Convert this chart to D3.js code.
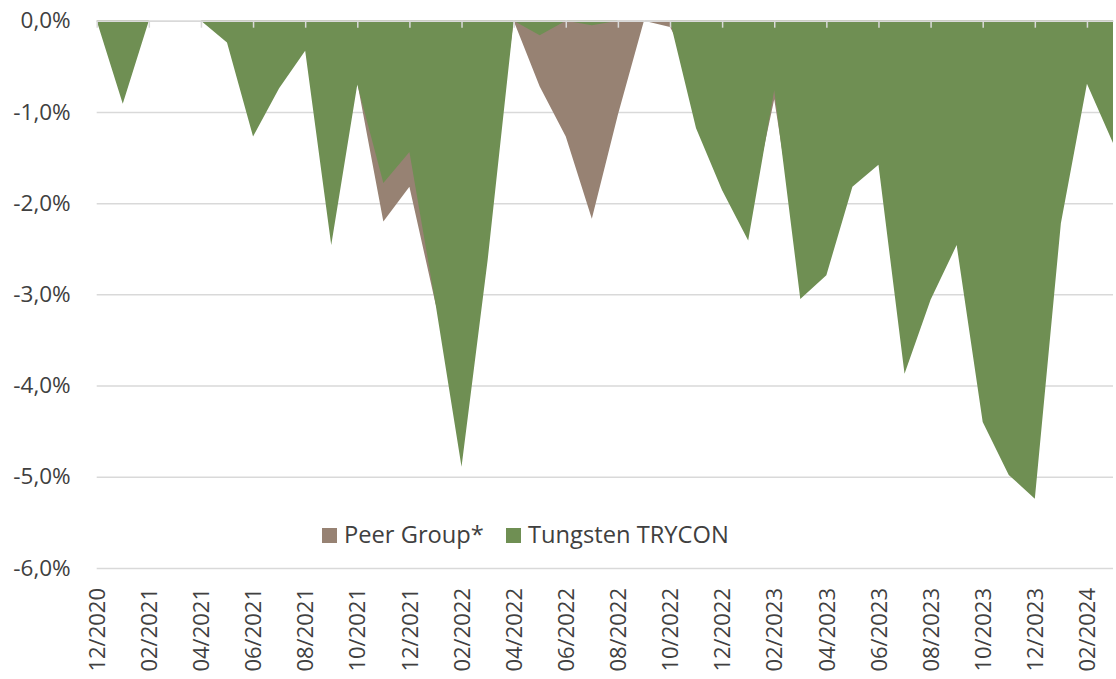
<!doctype html>
<html>
<head>
<meta charset="utf-8">
<title>Drawdown</title>
<script src="https://cdn.jsdelivr.net/npm/d3@7"></script>
<style>
  body { margin: 0; background: #fff; }
  svg text { font-family: "Open Sans", sans-serif; fill: #404040; }
</style>
</head>
<body>
<svg id="chart" width="1116" height="679"></svg>
<script>
// monthly drawdowns in %, 12/2020 .. 03/2024
var months = ["12/2020","01/2021","02/2021","03/2021","04/2021","05/2021","06/2021","07/2021",
  "08/2021","09/2021","10/2021","11/2021","12/2021","01/2022","02/2022","03/2022","04/2022",
  "05/2022","06/2022","07/2022","08/2022","09/2022","10/2022","11/2022","12/2022","01/2023",
  "02/2023","03/2023","04/2023","05/2023","06/2023","07/2023","08/2023","09/2023","10/2023",
  "11/2023","12/2023","01/2024","02/2024","03/2024"];

var peerGroup = [0, -0.5, 0, 0, 0, -0.1, -0.9, -0.5, -0.2, -1.6, -0.68, -2.20, -1.82, -3.10,
  -4.0, -2.2, 0, -0.72, -1.27, -2.17, -1.03, 0, -0.07, -0.6, -1.4, -2.2, -0.86, -2.7, -2.4,
  -1.5, -1.3, -3.0, -2.6, -2.0, -3.8, -4.3, -4.6, -1.8, -0.5, -1.0];

var trycon = [0, -0.91, 0, 0, 0, -0.24, -1.27, -0.74, -0.33, -2.46, -0.70, -1.78, -1.44, -3.10,
  -4.89, -2.63, 0, -0.16, 0, -0.05, 0, 0, 0, -1.18, -1.86, -2.41, -0.76, -3.05, -2.79, -1.82,
  -1.58, -3.87, -3.06, -2.46, -4.40, -4.98, -5.24, -2.22, -0.69, -1.34];

var yTicks = [0, -1, -2, -3, -4, -5, -6];
var seriesNames = ["Peer Group*", "Tungsten TRYCON"];
var colors = ["#978273", "#6f8f53"];

var svg = d3.select("#chart");
var plotLeft = 96.7, plotRight = 1113, plotTop = 20.7, plotBottom = 568;

var x = d3.scalePoint().domain(months).range([plotLeft, plotRight]);
var y = d3.scaleLinear().domain([-6, 0]).range([plotBottom, plotTop]);
var tickMonths = months.filter(function(d, i) { return i % 2 == 0; });

function pct(d) {
  return (d < 0 ? "-" : "") + Math.abs(d).toFixed(1).replace(".", ",") + "%";
}

// gridlines
var grid = svg.append("g")
  .attr("transform", "translate(" + plotLeft + ",0)")
  .call(d3.axisLeft(y).tickValues(yTicks).tickSize(-(plotRight - plotLeft)).tickFormat(""));
grid.select(".domain").remove();
grid.selectAll("line").attr("stroke", "#d9d9d9").attr("stroke-width", 1.5);

// areas, peer group underneath
var area = function(vals) {
  return d3.area()
    .x(function(d, i) { return x(months[i]); })
    .y0(y(0))
    .y1(function(d) { return y(d); })(vals);
};
[peerGroup, trycon].forEach(function(vals, k) {
  svg.append("path").attr("d", area(vals)).attr("fill", colors[k]);
});

// category axis line at 0 with small ticks
var xline = svg.append("g")
  .attr("transform", "translate(0," + y(0) + ")")
  .call(d3.axisBottom(x).tickValues(tickMonths).tickSize(7).tickSizeOuter(0).tickFormat(""));
xline.select(".domain").attr("stroke", "#d9d9d9").attr("stroke-width", 1.5);
xline.selectAll("line").attr("stroke", "#d9d9d9").attr("stroke-width", 1.5);

// y labels
var yAxis = svg.append("g")
  .attr("transform", "translate(" + plotLeft + ",0)")
  .call(d3.axisLeft(y).tickValues(yTicks).tickSize(0).tickPadding(26).tickFormat(pct));
yAxis.select(".domain").remove();
yAxis.selectAll("text").style("font-size", "22.5px").attr("fill", "#404040");

// x labels, rotated
var xAxis = svg.append("g")
  .attr("transform", "translate(0," + plotBottom + ")")
  .call(d3.axisBottom(x).tickValues(tickMonths).tickSize(0));
xAxis.select(".domain").remove();
xAxis.selectAll("text")
  .attr("transform", "rotate(-90)")
  .attr("x", -20).attr("y", 0).attr("dy", "0.35em")
  .style("text-anchor", "end")
  .style("font-size", "22px")
  .attr("fill", "#404040");

// legend
var legendX = [322, 506];
var legend = svg.append("g");
seriesNames.forEach(function(name, k) {
  legend.append("rect")
    .attr("x", legendX[k]).attr("y", 528)
    .attr("width", 15).attr("height", 15)
    .attr("fill", colors[k]);
  legend.append("text")
    .attr("x", legendX[k] + 22).attr("y", 543)
    .style("font-size", "23.7px")
    .text(name);
});
</script>
</body>
</html>
